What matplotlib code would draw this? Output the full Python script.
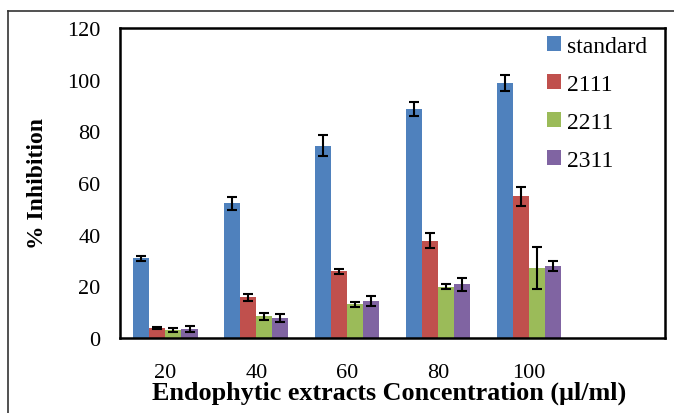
import matplotlib
matplotlib.use("Agg")
import matplotlib.pyplot as plt
import numpy as np
from matplotlib.lines import Line2D

categories = ["20", "40", "60", "80", "100"]
series_names = ["standard", "2111", "2211", "2311"]
standard = [30.8, 52.2, 74.5, 88.6, 98.7]
s2111 = [3.9, 15.8, 25.8, 37.7, 54.8]
s2211 = [3.1, 8.4, 13.0, 19.9, 27.1]
s2311 = [3.5, 7.7, 14.3, 20.8, 28.0]
err_standard = [0.8, 2.5, 4.0, 2.7, 3.0]
err_2111 = [0.5, 1.3, 1.0, 3.0, 3.7]
err_2211 = [0.8, 1.3, 1.0, 1.0, 8.2]
err_2311 = [1.0, 1.5, 2.0, 2.5, 2.0]
colors = ["#4F81BD", "#C0504D", "#9BBB59", "#8064A2"]

plt.rcParams['font.family'] = ['Liberation Serif', 'DejaVu Serif']

fig = plt.figure(figsize=(6.74, 4.14), dpi=100)
ax = fig.add_axes([120/674, 1-339/414, 545/674, 310/414])

values = [standard, s2111, s2211, s2311]
errs = [err_standard, err_2111, err_2211, err_2311]
n_slots = len(categories) + 1
x = np.arange(len(categories))
w = 0.177
for i, (vals, e, c, name) in enumerate(zip(values, errs, colors, series_names)):
    ax.bar(x + (i - 1.5) * w, vals, width=w, color=c, label=name,
           yerr=e, error_kw=dict(ecolor='black', elinewidth=1.5, capsize=3.5, capthick=1.5))

ax.set_xlim(-0.5, n_slots - 0.5)
ax.set_ylim(0, 120)
ax.set_yticks(np.arange(0, 121, 20))
ax.set_xticks(x)
ax.set_xticklabels(categories)
ax.tick_params(axis='both', length=0, labelsize=16)
ax.tick_params(axis='y', pad=14)
ax.tick_params(axis='x', pad=18)
for sp in ax.spines.values():
    sp.set_linewidth(1.8)
    sp.set_color('black')

ax.set_ylabel("% Inhibition", fontsize=17, fontweight='bold', labelpad=14)
ax.set_xlabel("Endophytic extracts Concentration (\u00b5l/ml)", fontsize=18.8, fontweight='bold')
ax.xaxis.set_label_coords(0.5 - 3/545, (339 - 382) / 310)

ax.legend(loc='upper right', frameon=False, fontsize=17, handlelength=0.6, handleheight=0.6,
          labelspacing=0.72, handletextpad=0.25, bbox_to_anchor=(0.993, 1.02), borderaxespad=0.2)

# outer frame (left and top)
fig.add_artist(Line2D([8/674, 8/674], [0, 1-12/414], transform=fig.transFigure, color='#333333', lw=1.2))
fig.add_artist(Line2D([8/674, 1], [1-12/414, 1-12/414], transform=fig.transFigure, color='#333333', lw=1.2))

fig.savefig("out.png", dpi=100)
